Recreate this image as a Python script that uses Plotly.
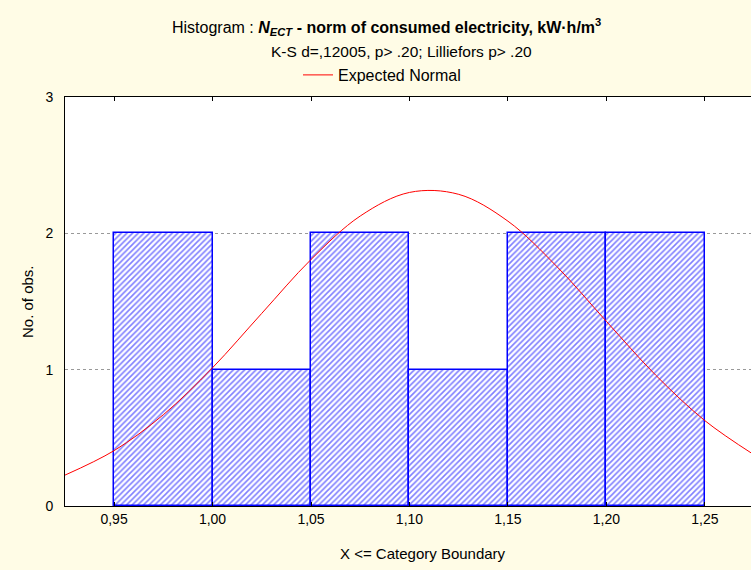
import plotly.graph_objects as go

# Histogram bins (upper boundaries) and counts
bin_upper = [1.00, 1.05, 1.10, 1.15, 1.20, 1.25]
bin_width = 0.05
counts = [2, 1, 2, 1, 2, 2]

# Expected normal curve
curve_x = [0.925, 0.95, 0.975, 1.00, 1.025, 1.05, 1.075, 1.10, 1.125, 1.15,
           1.175, 1.20, 1.225, 1.25, 1.275]
curve_y = [0.226, 0.406, 0.669, 1.014, 1.413, 1.808, 2.127, 2.300, 2.286, 2.089,
           1.754, 1.354, 0.960, 0.626, 0.375]

x_tickvals = [0.95, 1.00, 1.05, 1.10, 1.15, 1.20, 1.25]
x_ticktext = ["0,95", "1,00", "1,05", "1,10", "1,15", "1,20", "1,25"]
y_tickvals = [0, 1, 2, 3]

centers = [u - bin_width / 2 for u in bin_upper]

FONT = "Liberation Sans, Arial, sans-serif"
BG = "#FFFCE6"
L, R, T, B = 65, 0, 97, 64
W, H = 751, 570
pw, ph = W - L - R, H - T - B


def px_x(px):
    return (px - L) / pw


def px_y(py):
    return 1 + (T - py) / ph


fig = go.Figure()
fig.add_trace(go.Bar(
    x=centers, y=counts, width=bin_width,
    marker=dict(color="white",
                line=dict(color="#0000FF", width=1.5),
                pattern=dict(shape="/", fgcolor="#0000FF", bgcolor="white",
                             size=4, solidity=0.4)),
    showlegend=False, hoverinfo="skip"))
fig.add_trace(go.Scatter(
    x=curve_x, y=curve_y, mode="lines", name="Expected Normal",
    line=dict(color="#FF0000", width=1, shape="spline")))

fig.update_layout(
    width=W, height=H,
    margin=dict(l=L, r=R, t=T, b=B, autoexpand=False),
    paper_bgcolor=BG, plot_bgcolor="white",
    font=dict(family=FONT, size=15, color="black"),
    bargap=0,
    showlegend=True,
    legend=dict(orientation="h", x=px_x(298), y=px_y(75), xanchor="left", yanchor="middle",
                bgcolor="rgba(0,0,0,0)", font=dict(size=16, family=FONT),
                itemwidth=30),
    annotations=[
        dict(text="Histogram : <b><i>N<sub>ECT</sub></i> - norm of consumed electricity, kW·h/m<sup>3</sup></b>",
             x=px_x(386), y=px_y(27), xref="paper", yref="paper", showarrow=False,
             xanchor="center", yanchor="middle", font=dict(size=16, family=FONT)),
        dict(text="K-S d=,12005, p> .20; Lilliefors p> .20",
             x=px_x(401), y=px_y(51), xref="paper", yref="paper", showarrow=False,
             xanchor="center", yanchor="middle", font=dict(size=15.5, family=FONT)),
        dict(text="X <= Category Boundary",
             x=px_x(423), y=px_y(553), xref="paper", yref="paper", showarrow=False,
             xanchor="center", yanchor="middle", font=dict(size=15, family=FONT)),
        dict(text="No. of obs.", textangle=-90,
             x=px_x(27), y=px_y(302), xref="paper", yref="paper", showarrow=False,
             xanchor="center", yanchor="middle", font=dict(size=15, family=FONT)),
    ],
)

fig.update_xaxes(
    range=[0.9251, 1.2734], tickvals=x_tickvals, ticktext=x_ticktext,
    showgrid=False, zeroline=False, automargin=False,
    showline=True, linecolor="black", linewidth=1, mirror="ticks",
    ticks="inside", ticklen=4, tickcolor="black",
    tickfont=dict(size=14))
fig.update_yaxes(
    range=[0, 3], tickvals=y_tickvals,
    showgrid=True, gridcolor="#999999", griddash="dot", gridwidth=1,
    zeroline=False, automargin=False,
    showline=True, linecolor="black", linewidth=1,
    ticks="", ticklabelstandoff=8,
    tickfont=dict(size=14))

fig.write_html("out.html",
               config={"displayModeBar": False},
               post_script="document.body.style.margin='0';document.body.style.overflow='hidden';")
